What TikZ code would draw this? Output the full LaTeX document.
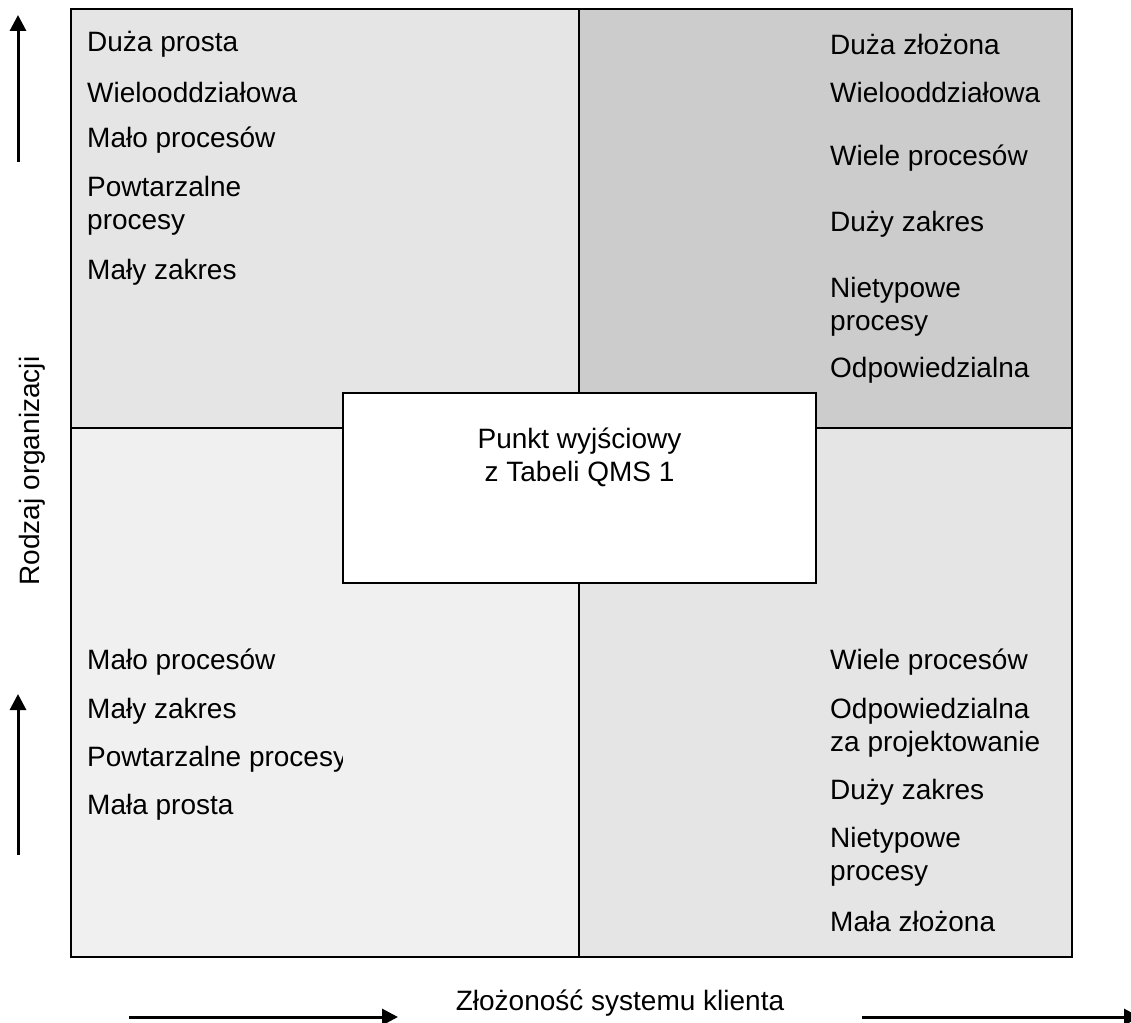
\documentclass[tikz,border=0pt]{standalone}
\usepackage{fontspec}
\setmainfont{Liberation Sans}
\usetikzlibrary{arrows.meta, positioning}

\definecolor{quadTL}{gray}{0.90}
\definecolor{quadTR}{gray}{0.80}
\definecolor{quadBL}{gray}{0.94}
\definecolor{quadBR}{gray}{0.90}

\begin{document}
\begin{tikzpicture}[x=1pt, y=-1pt,
        item/.style={anchor=west, align=left, inner sep=0pt, font=\fontsize{28}{33}\selectfont},
        listitem/.style={item, yshift=-2.5pt},
        startbox/.style={draw, fill=white, line width=1.8pt, minimum width=473pt, minimum height=190pt, inner sep=0pt},
        axis/.style={-{Triangle[length=16pt, width=16pt]}, line width=3pt}
    ]
    \useasboundingbox (0,0) rectangle (1131,1022);

    % Quadrants
    \fill[quadTL] (71,9) rectangle (579,428);
    \fill[quadTR] (579,9) rectangle (1072,428);
    \fill[quadBL] (71,428) rectangle (579,957);
    \fill[quadBR] (579,428) rectangle (1072,957);
    \draw[line width=1.8pt] (579,9) -- (579,957);
    \draw[line width=1.8pt] (71,428) -- (1072,428);
    \draw[line width=2.4pt] (71,9) rectangle (1072,957);

    % Top left
    \node[listitem] (tl1) at (87,42) {Duża prosta};
    \node[listitem] (tl2) at (87,90) {Wielooddziałowa};
    \node[listitem] (tl3) at (87,138) {Mało procesów};
    \node[listitem] (tl4) at (87,203) {Powtarzalne\\procesy};
    \node[listitem] (tl5) at (87,270) {Mały zakres};

    % Top right
    \node[listitem] (tr1) at (830,42) {Duża złożona};
    \node[listitem] (tr2) at (830,90) {Wielooddziałowa};
    \node[listitem] (tr3) at (830,156) {Wiele procesów};
    \node[listitem] (tr4) at (830,222) {Duży zakres};
    \node[listitem] (tr5) at (830,304) {Nietypowe\\procesy};
    \node[listitem] (tr6) at (830,368) {Odpowiedzialna};

    % Bottom left
    \begin{scope}
        \clip (71,428) rectangle (342,957);
        \node[listitem] (bl1) at (87,660) {Mało procesów};
        \node[listitem] (bl2) at (87,709) {Mały zakres};
        \node[listitem] (bl3) at (87,757) {Powtarzalne procesy};
        \node[listitem] (bl4) at (87,805) {Mała prosta};
    \end{scope}

    % Bottom right
    \node[listitem] (br1) at (830,660) {Wiele procesów};
    \node[listitem] (br2) at (830,725) {Odpowiedzialna\\za projektowanie};
    \node[listitem] (br3) at (830,790) {Duży zakres};
    \node[listitem] (br4) at (830,854) {Nietypowe\\procesy};
    \node[listitem] (br5) at (830,919) {Mała złożona};

    % Starting point
    \node[startbox] (start) at (579.5,488) {};
    \node[item, anchor=north, align=center, below=36pt of start.north] (startlabel) {Punkt wyjściowy\\z Tabeli QMS 1};

    % Axes
    \node[item, anchor=center, rotate=90] (ylabel) at (32,471) {Rodzaj organizacji};
    \node[item, anchor=center] (xlabel) at (620,1003) {Złożoność systemu klienta};
    \coordinate (ya1) at (18,162);
    \coordinate (yb1) at (18,15);
    \coordinate (ya2) at (18,855);
    \coordinate (yb2) at (18,694);
    \coordinate (xa1) at (129,1017);
    \coordinate (xb1) at (398,1017);
    \coordinate (xa2) at (862,1017);
    \coordinate (xb2) at (1140,1017);
    \draw[axis] (ya1) -- (yb1);
    \draw[axis] (ya2) -- (yb2);
    \draw[axis] (xa1) -- (xb1);
    \draw[axis] (xa2) -- (xb2);
\end{tikzpicture}
\end{document}
